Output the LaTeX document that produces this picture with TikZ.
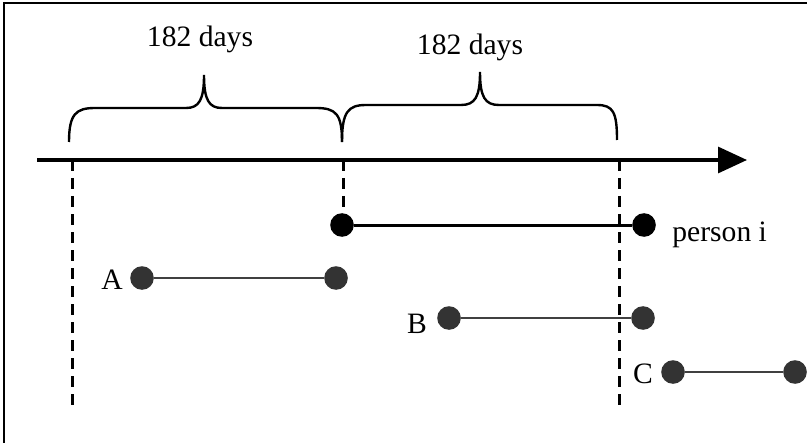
\documentclass[tikz,border=0pt]{standalone}
\usepackage{fontspec}
\setmainfont{Liberation Serif}
\usetikzlibrary{arrows.meta}
\definecolor{dotgray}{HTML}{333333}
\definecolor{linegray}{HTML}{404040}
\tikzset{
  lbl/.style={font=\fontsize{14.8}{17}\selectfont, inner sep=0pt},
  blackdot/.style={circle, fill=black, minimum size=11.8pt, inner sep=0pt},
  graydot/.style={circle, fill=dotgray, minimum size=11.8pt, inner sep=0pt},
  guide/.style={line width=1.5pt, dash pattern=on 5.5pt off 3.5pt},
  bracestyle/.style={line width=1.2pt},
  seg/.style={line width=1.2pt, linegray},
}
\begin{document}
\begin{tikzpicture}[x=0.5pt, y=-0.5pt]
\useasboundingbox (0,0) rectangle (807,443);
% frame (top and left edges)
\draw[line width=1.2pt] (4,443) -- (4,3) -- (807,3);
% axis
\coordinate (ax0) at (37,160);
\coordinate (ax1) at (747,160);
\draw[line width=1.6pt, -{Triangle[length=14.5pt,width=13pt]}] (ax0) -- (ax1);
% braces
\draw[bracestyle] (69,142) .. controls (69,114) and (76,108) .. (95,108) -- (186,108)
  .. controls (199,108) and (204,100) .. (204,75)
  .. controls (204,100) and (209,108) .. (222,108) -- (316,108)
  .. controls (336,108) and (342,114) .. (342,142);
\draw[bracestyle] (342,142) .. controls (342,112) and (348,105) .. (366,105) -- (461,105)
  .. controls (475,105) and (480,97) .. (480,72)
  .. controls (480,97) and (485,105) .. (499,105) -- (597,105)
  .. controls (613,105) and (617,112) .. (617,140);
\node[lbl, anchor=base] (t1) at (200,47) {182 days};
\node[lbl, anchor=base] (t2) at (470,55) {182 days};
% dashed guides
\coordinate (g1a) at (72,160); \coordinate (g1b) at (72,410);
\coordinate (g2a) at (343,160); \coordinate (g2b) at (343,210);
\coordinate (g3a) at (619,160); \coordinate (g3b) at (619,410);
\draw[guide] (g1a) -- (g1b);
\draw[guide] (g2a) -- (g2b);
\draw[guide] (g3a) -- (g3b);
% person i
\node[blackdot] (p1) at (342,225) {};
\node[blackdot] (p2) at (644,225) {};
\draw[line width=1.5pt] (p1) -- (p2);
\node[lbl, anchor=base west] (pl) at (672,242) {person i};
% A
\node[graydot] (a1) at (142,278) {};
\node[graydot] (a2) at (336,278) {};
\draw[seg] (a1) -- (a2);
\node[lbl, anchor=base] (al) at (112,289) {A};
% B
\node[graydot] (b1) at (449,318) {};
\node[graydot] (b2) at (643,318) {};
\draw[seg] (b1) -- (b2);
\node[lbl, anchor=base] (bl) at (417,333) {B};
% C
\node[graydot] (c1) at (673,372) {};
\node[graydot] (c2) at (795,372) {};
\draw[seg] (c1) -- (c2);
\node[lbl, anchor=base] (cl) at (643,383) {C};
\end{tikzpicture}
\end{document}
